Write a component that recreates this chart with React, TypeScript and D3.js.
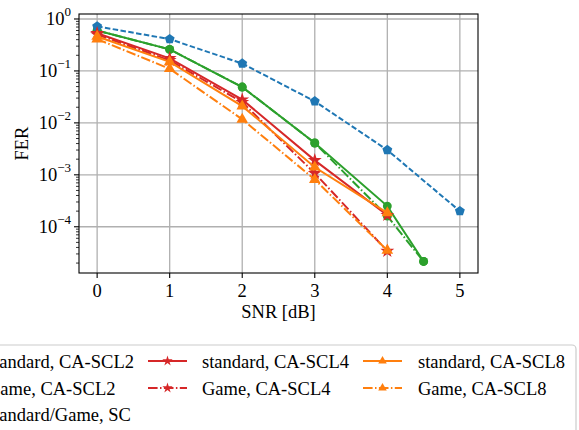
import React from "react";
import * as d3 from "d3";

const snr = [0, 1, 2, 3, 4];
const snrSC = [0, 1, 2, 3, 4, 5];
const snrSCL2 = [0, 1, 2, 3, 4, 4.5];

const scFER = [0.72, 0.41, 0.139, 0.026, 0.003, 2.0e-4];
const stdSCL2 = [0.6, 0.26, 0.049, 0.0041, 2.5e-4, 2.15e-5];
const gameSCL2 = [0.6, 0.26, 0.049, 0.0041, 1.6e-4, 2.15e-5];
const stdSCL4 = [0.53, 0.175, 0.028, 1.9e-3, 1.67e-4];
const gameSCL4 = [0.5, 0.16, 0.025, 1.07e-3, 3.4e-5];
const stdSCL8 = [0.46, 0.15, 0.021, 1.4e-3, 1.85e-4];
const gameSCL8 = [0.41, 0.11, 0.0117, 8.1e-4, 3.5e-5];

const xTicks = [0, 1, 2, 3, 4, 5];
const yTickExps = [0, -1, -2, -3, -4];

type Series = {
  label: string;
  xs: number[];
  ys: number[];
  color: string;
  dash: string;
  marker: "circle" | "star" | "triangle" | "pentagon";
};

const series: Series[] = [
  { label: "standard, CA-SCL2", xs: snrSCL2, ys: stdSCL2, color: "#2ca02c", dash: "none", marker: "circle" },
  { label: "Game, CA-SCL2", xs: snrSCL2, ys: gameSCL2, color: "#2ca02c", dash: "9.6,2.4,1.5,2.4", marker: "circle" },
  { label: "standard/Game, SC", xs: snrSC, ys: scFER, color: "#1f77b4", dash: "5.5,2.4", marker: "pentagon" },
  { label: "standard, CA-SCL4", xs: snr, ys: stdSCL4, color: "#d62728", dash: "none", marker: "star" },
  { label: "Game, CA-SCL4", xs: snr, ys: gameSCL4, color: "#d62728", dash: "9.6,2.4,1.5,2.4", marker: "star" },
  { label: "standard, CA-SCL8", xs: snr, ys: stdSCL8, color: "#ff7f0e", dash: "none", marker: "triangle" },
  { label: "Game, CA-SCL8", xs: snr, ys: gameSCL8, color: "#ff7f0e", dash: "9.6,2.4,1.5,2.4", marker: "triangle" },
];

const W = 579;
const H = 430;
const left = 79, right = 478, top = 14, bottom = 273;
const FONT = "'Liberation Serif', 'Times New Roman', serif";

const x = d3.scaleLinear().domain([-0.25, 5.25]).range([left, right]);
const y = d3.scaleLog().domain([Math.pow(10, -4.89), Math.pow(10, 0.096)]).range([bottom, top]);

function markerPath(m: Series["marker"], scale = 1): string {
  if (m === "circle") return d3.symbol(d3.symbolCircle, 62 * scale)()!;
  if (m === "star") return d3.symbol(d3.symbolStar, 60 * scale)()!;
  if (m === "triangle") return d3.symbol(d3.symbolTriangle, 58 * scale)()!;
  const r = 5.2 * Math.sqrt(scale);
  const pts: [number, number][] = d3.range(5).map((i) => {
    const a = -Math.PI / 2 + (i * 2 * Math.PI) / 5;
    return [r * Math.cos(a), r * Math.sin(a)];
  });
  return (d3.line()(pts) || "") + "Z";
}

export default function App() {
  const line = d3
    .line<[number, number]>()
    .x((d) => x(d[0]))
    .y((d) => y(d[1]));

  const minor: number[] = [];
  for (let e = -5; e <= 0; e++) {
    for (let k = 2; k <= 9; k++) {
      const v = k * Math.pow(10, e);
      const [lo, hi] = y.domain();
      if (v >= lo && v <= hi) minor.push(v);
    }
  }

  const legendCols = [
    { hx: -67, tx: -13, items: [0, 1, 2] },
    { hx: 148, tx: 202, items: [3, 4] },
    { hx: 363, tx: 418, items: [5, 6] },
  ];
  const rowY = [361, 388, 414];

  return (
    <svg width={W} height={H} style={{ position: "absolute", left: 0, top: 0 }} fontFamily={FONT}>
      <rect x={0} y={0} width={W} height={H} fill="white" />
      {/* grid */}
      {xTicks.map((t) => (
        <line key={"gx" + t} x1={x(t)} x2={x(t)} y1={top} y2={bottom} stroke="#b0b0b0" strokeWidth={1.3} />
      ))}
      {yTickExps.map((e) => (
        <line key={"gy" + e} x1={left} x2={right} y1={y(Math.pow(10, e))} y2={y(Math.pow(10, e))} stroke="#b0b0b0" strokeWidth={1.3} />
      ))}
      {/* series */}
      <defs>
        <clipPath id="plotclip">
          <rect x={left} y={top} width={right - left} height={bottom - top} />
        </clipPath>
      </defs>
      <g clipPath="url(#plotclip)">
        {series.map((s, i) => {
          const pts = s.xs.map((xv, j) => [xv, s.ys[j]] as [number, number]);
          return (
            <g key={"s" + i}>
              <path d={line(pts) || ""} fill="none" stroke={s.color} strokeWidth={2} strokeDasharray={s.dash === "none" ? undefined : s.dash} />
              {pts.map((p, j) => (
                <path key={j} d={markerPath(s.marker)} transform={`translate(${x(p[0])},${y(p[1])})`} fill={s.color} />
              ))}
            </g>
          );
        })}
      </g>
      {/* frame */}
      <rect x={left} y={top} width={right - left} height={bottom - top} fill="none" stroke="black" strokeWidth={1.1} />
      {/* x ticks */}
      {xTicks.map((t) => (
        <g key={"xt" + t}>
          <line x1={x(t)} x2={x(t)} y1={bottom} y2={bottom + 5} stroke="black" strokeWidth={1.1} />
          <text x={x(t)} y={297} textAnchor="middle" fontSize={18.5} fill="black">
            {t}
          </text>
        </g>
      ))}
      {/* y ticks */}
      {yTickExps.map((e) => {
        const yy = y(Math.pow(10, e));
        return (
          <g key={"yt" + e}>
            <line x1={left - 5} x2={left} y1={yy} y2={yy} stroke="black" strokeWidth={1.1} />
            <text x={71} y={yy + 6.5} textAnchor="end" fontSize={18.5} fill="black">
              10
              <tspan fontSize={13} dy={-9.5}>
                {e === 0 ? "0" : "\u2212" + Math.abs(e)}
              </tspan>
            </text>
          </g>
        );
      })}
      {minor.map((v, i) => (
        <line key={"mt" + i} x1={left - 3} x2={left} y1={y(v)} y2={y(v)} stroke="black" strokeWidth={0.8} />
      ))}
      {/* axis labels */}
      <text x={(left + right) / 2} y={318} textAnchor="middle" fontSize={18.5} fill="black">
        SNR [dB]
      </text>
      <text transform={`translate(28,${(top + bottom) / 2}) rotate(-90)`} textAnchor="middle" fontSize={18.5} fill="black">
        FER
      </text>
      {/* legend */}
      <rect x={-75} y={345} width={651} height={110} rx={4} fill="white" fillOpacity={0.8} stroke="#cccccc" strokeWidth={1.2} />
      {legendCols.map((c, ci) =>
        c.items.map((si, ri) => {
          const s = series[si];
          const yy = rowY[ri];
          return (
            <g key={"lg" + ci + "_" + ri}>
              <line x1={c.hx} x2={c.hx + 39} y1={yy} y2={yy} stroke={s.color} strokeWidth={2} strokeDasharray={s.dash === "none" ? undefined : s.dash} />
              <path d={markerPath(s.marker, 0.55)} transform={`translate(${c.hx + 19.5},${yy})`} fill={s.color} />
              <text x={c.tx} y={yy + 6.5} fontSize={18.5} fill="black">
                {s.label}
              </text>
            </g>
          );
        })
      )}
    </svg>
  );
}
